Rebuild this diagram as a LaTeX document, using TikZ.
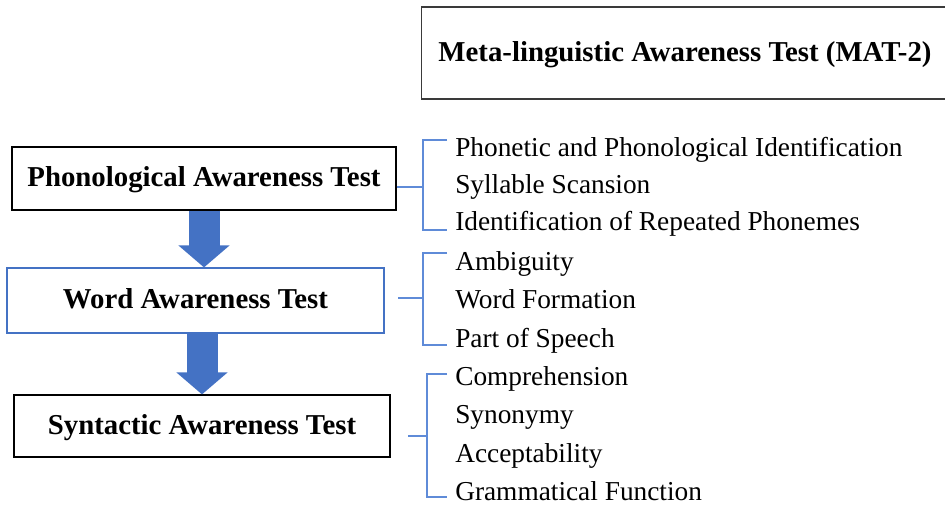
\documentclass[tikz,border=0pt]{standalone}
\usepackage{fontspec}
\setmainfont{Liberation Serif}
\usepackage{xcolor}
\usetikzlibrary{shapes,arrows.meta,positioning}
\definecolor{boxblue}{HTML}{4472C4}
\definecolor{brkblue}{HTML}{5F8BD8}
\definecolor{titlegray}{HTML}{3A3A3A}

\begin{document}
\begin{tikzpicture}[x=0.75pt,y=-0.75pt,
  testbox/.style={draw=#1,line width=0.9pt,inner sep=0pt,text height=16.4pt,text depth=4.3pt,
    font=\fontsize{21.6}{26}\selectfont\bfseries},
  item/.style={anchor=base west,inner sep=0pt,font=\fontsize{20.5}{24}\selectfont},
  bracket/.style={draw=brkblue,line width=1.1pt},
  blockarrow/.style={draw=boxblue,line width=23.25pt,-{Triangle[width=37.5pt,length=16.5pt]}}]
\useasboundingbox (0,0) rectangle (945,504);

% boxes
\node[testbox=titlegray,minimum width=395pt,minimum height=69pt] (mat) at (685,53) {Meta-linguistic Awareness Test (MAT-2)};
\node[testbox=black,minimum width=288pt,minimum height=47.25pt] (phon) at (204,178.5) {Phonological Awareness Test};
\node[testbox=boxblue,minimum width=282.75pt,minimum height=48.75pt] (word) at (195.5,300.5) {Word Awareness Test};
\node[testbox=black,minimum width=282pt,minimum height=46.5pt] (syn) at (202,426) {Syntactic Awareness Test};

% arrows
\draw[blockarrow] (phon.south) -- (phon.south |- word.north);
\draw[blockarrow] (word.south -| syn.north) -- (syn.north);

% items (placed on their baselines)
\node[item] (pho1) at (455,156) {Phonetic and Phonological Identification};
\node[item] (pho2) at (455,193) {Syllable Scansion};
\node[item] (pho3) at (455,230) {Identification of Repeated Phonemes};
\node[item] (wrd1) at (455,270) {Ambiguity};
\node[item] (wrd2) at (455,308) {Word Formation};
\node[item] (wrd3) at (455,347) {Part of Speech};
\node[item] (syn1) at (455,385) {Comprehension};
\node[item] (syn2) at (455,423) {Synonymy};
\node[item] (syn3) at (455,462) {Acceptability};
\node[item] (syn4) at (455,500) {Grammatical Function};

% brackets
\coordinate (phoj) at (423,187);
\coordinate (wrds) at (398,298);
\coordinate (wrdj) at (423,298);
\coordinate (syns) at (408,436);
\coordinate (synj) at (427,436);
\draw[bracket] (phon.east |- phoj) -- (phoj);
\draw[bracket] ([shift={(-6pt,12pt)}]pho1.base west) -| (phoj) |- ([xshift=-6pt]pho3.base west);
\draw[bracket] (wrds) -- (wrdj);
\draw[bracket] ([shift={(-6pt,12.75pt)}]wrd1.base west) -| (wrdj) |- ([shift={(-6pt,1.5pt)}]wrd3.base west);
\draw[bracket] (syns) -- (synj);
\draw[bracket] ([shift={(-6pt,8.25pt)}]syn1.base west) -| (synj) |- ([shift={(-6pt,2.25pt)}]syn4.base west);
\end{tikzpicture}
\end{document}
